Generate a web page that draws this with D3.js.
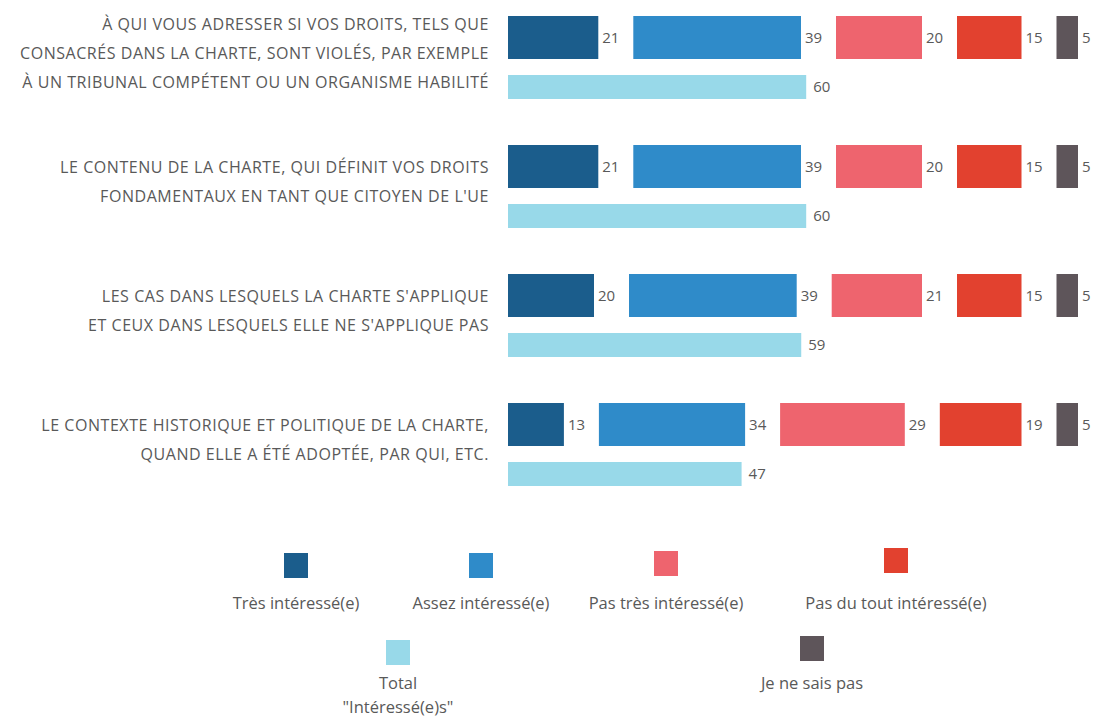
<!DOCTYPE html>
<html>
<head>
<meta charset="utf-8">
<script src="https://cdn.jsdelivr.net/npm/d3@7"></script>
<style>
  body { margin: 0; background: #fff; }
  svg { display: block; font-family: "Open Sans", sans-serif; }
</style>
</head>
<body>
<svg id="chart" width="1102" height="718"></svg>
<script>
// data
const categories = [
  ["À QUI VOUS ADRESSER SI VOS DROITS, TELS QUE", "CONSACRÉS DANS LA CHARTE, SONT VIOLÉS, PAR EXEMPLE", "À UN TRIBUNAL COMPÉTENT OU UN ORGANISME HABILITÉ"],
  ["LE CONTENU DE LA CHARTE, QUI DÉFINIT VOS DROITS", "FONDAMENTAUX EN TANT QUE CITOYEN DE L'UE"],
  ["LES CAS DANS LESQUELS LA CHARTE S'APPLIQUE", "ET CEUX DANS LESQUELS ELLE NE S'APPLIQUE PAS"],
  ["LE CONTEXTE HISTORIQUE ET POLITIQUE DE LA CHARTE,", "QUAND ELLE A ÉTÉ ADOPTÉE, PAR QUI, ETC."]
];
const seriesNames = ["Très intéressé(e)", "Assez intéressé(e)", "Pas très intéressé(e)", "Pas du tout intéressé(e)", "Je ne sais pas"];
const tres = [21, 21, 20, 13];
const assez = [39, 39, 39, 34];
const pasTres = [20, 20, 21, 29];
const pasDuTout = [15, 15, 15, 19];
const nsp = [5, 5, 5, 5];
const total = [60, 60, 59, 47];
const totalName = ["Total", "\"Intéressé(e)s\""];

const colors = ["#1b5d8c", "#2f8bc9", "#ee646e", "#e2412f", "#5e555a"];
const totalColor = "#98d9e9";
const textColor = "#595959";

const svg = d3.select("#chart");
const x0 = 508, gap = 35;

const segX = d3.scaleLinear().domain([0, 100]).range([0, 430]);
const totX = d3.scaleLinear().domain([0, 100]).range([0, 497]);
const rowY = d3.scaleBand().domain(d3.range(categories.length)).range([16, 532]);

const rows = categories.map((c, i) => {
  const vals = [tres[i], assez[i], pasTres[i], pasDuTout[i], nsp[i]];
  let x = x0;
  const segs = vals.map((v, k) => {
    const s = {row: i, k: k, v: v, x: x, w: segX(v)};
    x += s.w + gap;
    return s;
  });
  return {i: i, label: c, segs: segs, total: total[i]};
});

const g = svg.selectAll("g.row").data(rows).enter().append("g")
    .attr("class", "row")
    .attr("transform", d => `translate(0,${rowY(d.i)})`);

// segmented bars
g.selectAll("rect.seg").data(d => d.segs).enter().append("rect")
    .attr("class", "seg")
    .attr("x", d => d.x)
    .attr("y", 0)
    .attr("width", d => d.w)
    .attr("height", 43)
    .attr("fill", d => colors[d.k]);

g.selectAll("text.seg").data(d => d.segs).enter().append("text")
    .attr("class", "seg")
    .attr("x", d => d.x + d.w + 4)
    .attr("y", 22)
    .attr("dy", "0.35em")
    .attr("fill", textColor)
    .style("font-size", "15px")
    .text(d => d.v);

// total bar
g.append("rect")
    .attr("x", x0)
    .attr("y", 59)
    .attr("width", d => totX(d.total))
    .attr("height", 24)
    .attr("fill", totalColor);

g.append("text")
    .attr("x", d => x0 + totX(d.total) + 7)
    .attr("y", 71)
    .attr("dy", "0.35em")
    .attr("fill", textColor)
    .style("font-size", "15px")
    .text(d => d.total);

// category labels
g.each(function (d) {
  const n = d.label.length;
  const t = d3.select(this).append("text")
      .attr("text-anchor", "end")
      .attr("fill", textColor)
      .style("font-size", "16px")
      .style("letter-spacing", "0.55px");
  d.label.forEach((line, j) => {
    t.append("tspan")
        .attr("x", 489)
        .attr("y", 37 + (j - (n - 1) / 2) * 29)
        .attr("dy", "0.35em")
        .text(line);
  });
});

// legend
const legendItems = [
  {name: [seriesNames[0]], color: colors[0], cx: 296, y: 553},
  {name: [seriesNames[1]], color: colors[1], cx: 481, y: 553},
  {name: [seriesNames[2]], color: colors[2], cx: 666, y: 551},
  {name: [seriesNames[3]], color: colors[3], cx: 896, y: 548},
  {name: totalName, color: totalColor, cx: 398, y: 640},
  {name: [seriesNames[4]], color: colors[4], cx: 812, y: 636}
];

const lg = svg.selectAll("g.legend").data(legendItems).enter().append("g")
    .attr("class", "legend");

lg.append("rect")
    .attr("x", d => d.cx - 12)
    .attr("y", d => d.y)
    .attr("width", 24)
    .attr("height", 25)
    .attr("fill", d => d.color);

lg.each(function (d) {
  const t = d3.select(this).append("text")
      .attr("text-anchor", "middle")
      .attr("fill", textColor)
      .style("font-size", "16.5px");
  d.name.forEach((line, j) => {
    t.append("tspan")
        .attr("x", d.cx)
        .attr("y", (d.y < 600 ? 603 : 683) + j * 24)
        .attr("dy", "0.35em")
        .text(line);
  });
});
</script>
</body>
</html>
